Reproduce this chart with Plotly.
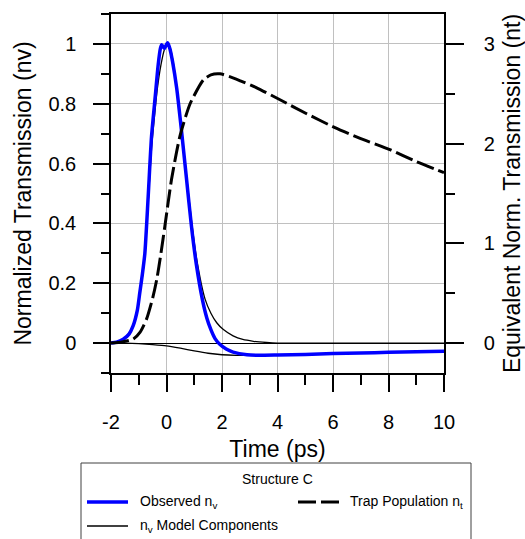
import plotly.graph_objects as go

# ---------------- data ----------------
time_obs = [-2, -1.8, -1.56, -1.35, -1.2, -1.05, -0.96, -0.87, -0.78, -0.66, -0.54, -0.4,
            -0.3, -0.22, -0.17, -0.08, 0.04, 0.12, 0.22, 0.37, 0.54, 0.72, 0.9, 1.08,
            1.29, 1.45, 1.6, 1.75, 1.93, 2.15, 2.4, 2.9, 3.3, 4, 5, 6, 7, 8, 9, 10]
obs_nv = [0, 0.003, 0.013, 0.03, 0.058, 0.11, 0.17, 0.23, 0.30, 0.49, 0.69, 0.83,
          0.93, 0.985, 0.997, 0.985, 1.004, 0.985, 0.94, 0.85, 0.71, 0.55, 0.39, 0.26,
          0.147, 0.085, 0.045, 0.015, -0.005, -0.02, -0.03, -0.039, -0.041, -0.04, -0.038,
          -0.035, -0.033, -0.031, -0.029, -0.027]

time_pos = [-2, -1.56, -1.2, -0.96, -0.78, -0.66, -0.54, -0.42, -0.33, -0.2, -0.08, 0.04,
            0.14, 0.24, 0.37, 0.54, 0.72, 0.9, 1.08, 1.39, 1.6, 1.81, 2.05, 2.4, 2.75, 3.13,
            3.6, 4, 6, 8, 10]
model_pos = [0, 0.012, 0.055, 0.165, 0.29, 0.47, 0.65, 0.77, 0.85, 0.93, 0.98, 1.0,
             0.985, 0.94, 0.855, 0.72, 0.56, 0.41, 0.285, 0.147, 0.1, 0.068, 0.045, 0.024,
             0.012, 0.006, 0.002, 0, 0, 0, 0]

time_neg = [-2, -1.5, -1, -0.5, 0, 0.5, 1, 1.5, 2, 2.5, 3, 4, 5, 6, 7, 8, 9, 10]
model_neg = [0, -0.0005, -0.002, -0.005, -0.009, -0.017, -0.026, -0.034, -0.039, -0.041,
             -0.041, -0.04, -0.038, -0.035, -0.033, -0.031, -0.029, -0.027]

time_trap = [-2, -1.6, -1.2, -0.95, -0.72, -0.5, -0.35, -0.2, -0.06, 0.18, 0.48, 0.85,
             1.33, 1.6, 1.93, 2.3, 2.66, 3.25, 4.09, 5.05, 6.07, 7, 8.05, 9, 10]
trap_nt = [0, 0.01, 0.04, 0.11, 0.24, 0.45, 0.64, 0.9, 1.17, 1.64, 2.07, 2.40,
           2.64, 2.69, 2.70, 2.67, 2.63, 2.56, 2.44, 2.30, 2.16, 2.05, 1.94, 1.82, 1.71]

x_ticks = [-2, 0, 2, 4, 6, 8, 10]
x_ticklabels = ["-2", "0", "2", "4", "6", "8", "10"]
y_left_ticks = [0, 0.2, 0.4, 0.6, 0.8, 1.0]
y_left_labels = ["0", "0.2", "0.4", "0.6", "0.8", "1"]
y_right_ticks = [0, 1, 2, 3]
y_right_labels = ["0", "1", "2", "3"]

x_range = [-2, 10]
y_left_range = [-0.1, 1.1]
y_right_range = [-0.3, 3.3]

legend_title = "Structure C"
name_obs = "Observed n<sub>v</sub>"
name_trap = "Trap Population n<sub>t</sub>"
name_model = "n<sub>v</sub> Model Components"

# ---------------- layout constants (pixels) ----------------
W, H = 525, 539
L, R, T, B = 111, 81, 14, 166
PW, PH = W - L - R, H - T - B
FONT = "Liberation Sans, Arial, sans-serif"


def px(xp):
    return (xp - L) / PW


def py(yp):
    return (H - B - yp) / PH


fig = go.Figure()
fig.add_trace(go.Scatter(x=time_pos, y=model_pos, mode="lines", name=name_model,
                         line=dict(color="black", width=1.3, shape="spline", smoothing=0.6),
                         showlegend=False))
fig.add_trace(go.Scatter(x=time_neg, y=model_neg, mode="lines", name=name_model,
                         line=dict(color="black", width=1.3, shape="spline", smoothing=0.6),
                         showlegend=False))
fig.add_trace(go.Scatter(x=time_obs, y=obs_nv, mode="lines", name=name_obs,
                         line=dict(color="#0000ff", width=3.5, shape="spline", smoothing=0.6),
                         showlegend=False))
fig.add_trace(go.Scatter(x=time_trap, y=trap_nt, mode="lines", name=name_trap, yaxis="y2",
                         line=dict(color="black", width=3, dash="18px,5px", shape="spline",
                                   smoothing=0.6),
                         showlegend=False))

axis_common = dict(showline=True, linecolor="black", linewidth=1.5, ticks="outside",
                   tickcolor="black", tickwidth=1.5, automargin=False,
                   tickfont=dict(family=FONT, size=20, color="black"))

fig.update_layout(
    width=W, height=H,
    margin=dict(l=L, r=R, t=T, b=B),
    paper_bgcolor="white", plot_bgcolor="white",
    font=dict(family=FONT, color="black"),
    showlegend=False,
    xaxis=dict(range=x_range, tickvals=x_ticks, ticktext=x_ticklabels, ticklen=17,
               mirror=True, showgrid=True, gridcolor="#c0c0c0", gridwidth=1.2,
               zeroline=False,
               minor=dict(dtick=1, tick0=-2, ticklen=10, ticks="outside", tickcolor="black",
                          tickwidth=1.5, showgrid=False),
               ticklabelstandoff=13,
               title=dict(text="Time (ps)", font=dict(family=FONT, size=23), standoff=9),
               **axis_common),
    yaxis=dict(range=y_left_range, tickvals=y_left_ticks, ticktext=y_left_labels,
               ticklen=16, showgrid=True, gridcolor="#c0c0c0", gridwidth=1.2,
               zeroline=True, zerolinecolor="black", zerolinewidth=1.3,
               minor=dict(tickvals=[-0.1, 0.1, 0.3, 0.5, 0.7, 0.9, 1.1], ticklen=8,
                          ticks="outside", tickcolor="black", tickwidth=1.5, showgrid=False),
               ticklabelstandoff=13,
               title=dict(text="Normalized Transmission (nv)", font=dict(family=FONT, size=23),
                          standoff=10),
               **axis_common),
    yaxis2=dict(range=y_right_range, overlaying="y", side="right", tickvals=y_right_ticks,
                ticktext=y_right_labels, ticklen=18, showgrid=False, zeroline=False,
                minor=dict(tickvals=[0.5, 1.5, 2.5], ticklen=9, ticks="outside",
                           tickcolor="black", tickwidth=1.5, showgrid=False),
                ticklabelstandoff=16,
                title=dict(text="Equivalent Norm. Transmission (nt)",
                           font=dict(family=FONT, size=23), standoff=12),
                **axis_common),
)

# ---------------- legend box (drawn) ----------------
fig.add_shape(type="rect", xref="paper", yref="paper",
              x0=px(81), x1=px(471), y0=py(463), y1=py(560),
              line=dict(color="#404040", width=1), fillcolor="white", layer="above")
fig.add_annotation(text=legend_title, xref="paper", yref="paper", x=px(277), y=py(479),
                   showarrow=False, xanchor="center", yanchor="middle",
                   font=dict(family=FONT, size=14, color="black"))
legend_items = [
    (87, 128, 502, dict(color="#0000ff", width=3.5), 138, name_obs),
    (298, 340, 502, dict(color="black", width=3, dash="18px,5px"), 348, name_trap),
    (87, 128, 526, dict(color="black", width=1.3), 138, name_model),
]
for xa, xb, yy, ln, xt, label in legend_items:
    fig.add_shape(type="line", xref="paper", yref="paper", x0=px(xa), x1=px(xb),
                  y0=py(yy), y1=py(yy), line=ln, layer="above")
    fig.add_annotation(text=label, xref="paper", yref="paper", x=px(xt), y=py(yy),
                       showarrow=False, xanchor="left", yanchor="middle",
                       font=dict(family=FONT, size=14, color="black"))

fig.write_html("out.html",
               config={"displayModeBar": False},
               post_script="document.body.style.margin='0px';"
                           "document.body.style.overflow='hidden';")
